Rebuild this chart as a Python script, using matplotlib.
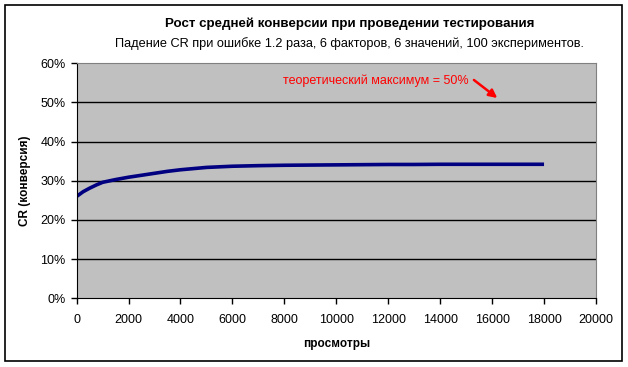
import matplotlib
matplotlib.use("Agg")
import matplotlib.pyplot as plt
from matplotlib.patches import Rectangle
from matplotlib.ticker import FuncFormatter

plt.rcParams['font.family'] = ['Liberation Sans', 'DejaVu Sans']

# average conversion vs. views
views = [0, 250, 500, 750, 1000, 1500, 2000, 2500, 3000, 3500, 4000, 4500,
         5000, 6000, 7000, 8000, 9000, 10000, 11000, 12000, 13000, 14000,
         15000, 16000, 17000, 18000]
cr = [26.0, 27.2, 28.1, 28.9, 29.6, 30.3, 30.9, 31.4, 31.9, 32.4, 32.8, 33.1,
      33.4, 33.7, 33.85, 33.95, 34.0, 34.05, 34.1, 34.15, 34.15, 34.2,
      34.2, 34.2, 34.2, 34.2]

title = "Рост средней конверсии при проведении тестирования"
subtitle = "Падение CR при ошибке 1.2 раза, 6 факторов, 6 значений, 100 экспериментов."
note = "теоретический максимум = 50%"

fig = plt.figure(figsize=(6.28, 3.67), dpi=100, facecolor="white")
ax = fig.add_axes([0.122, 0.187, 0.827, 0.641])
ax.set_facecolor("#c0c0c0")

ax.plot(views, [v / 100 for v in cr], color="#000080", lw=2.6, solid_capstyle="butt")

ax.set_xlim(0, 20000)
ax.set_ylim(0, 0.6)
ax.set_xticks(range(0, 20001, 2000))
ax.set_yticks([i / 10 for i in range(7)])
ax.yaxis.set_major_formatter(FuncFormatter(lambda v, p: "%d%%" % round(v * 100)))
for y in [0.1, 0.2, 0.3, 0.4, 0.5]:
    ax.axhline(y, color="black", lw=1.0, zorder=1)

for s in ["top", "right"]:
    ax.spines[s].set_color("#808080")
for s in ["left", "bottom"]:
    ax.spines[s].set_color("black")
ax.tick_params(direction="out", length=4, width=1, labelsize=9, pad=4)
ax.tick_params(axis="x", pad=7)

ax.set_xlabel("просмотры", fontsize=8.5, fontweight="bold", labelpad=9)
ax.set_ylabel("CR (конверсия)", fontsize=8.5, fontweight="bold", labelpad=7)

ax.text(15110, 0.555, note, color="red", fontsize=9, ha="right", va="center")
ax.annotate("", xy=(16200, 0.511), xytext=(15300, 0.557),
            arrowprops=dict(arrowstyle="-|>", color="red", lw=1.8,
                            mutation_scale=12, shrinkA=0, shrinkB=0))

fig.text(0.557, 0.935, title, ha="center", va="center", fontsize=9.6, fontweight="bold")
fig.text(0.557, 0.882, subtitle, ha="center", va="center", fontsize=9.2)

fig.patches.append(Rectangle((0.008, 0.016), 0.982, 0.97, transform=fig.transFigure,
                             fill=False, edgecolor="black", lw=1.2))

fig.savefig("out.png", dpi=100, facecolor="white")
